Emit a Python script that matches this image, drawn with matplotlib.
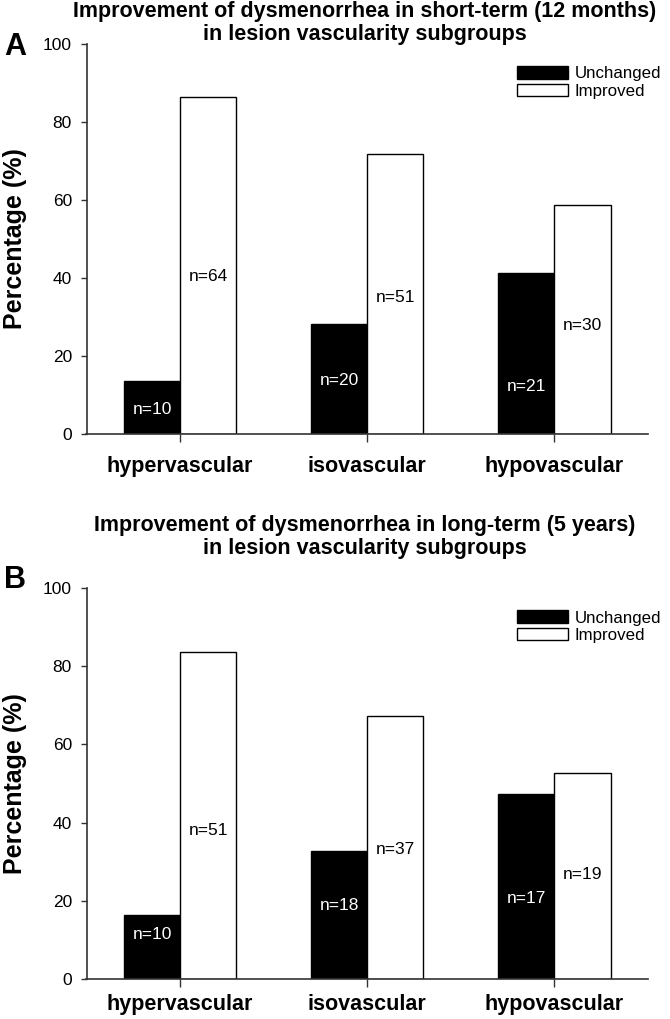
import matplotlib
matplotlib.use("Agg")
import matplotlib.pyplot as plt
import numpy as np
from matplotlib.patches import Patch

plt.rcParams['font.family'] = ['Liberation Sans', 'DejaVu Sans']

categories = ["hypervascular", "isovascular", "hypovascular"]
series_names = ["Unchanged", "Improved"]

# Panel A: short-term (12 months)
a_unchanged = [13.5, 28.2, 41.2]
a_improved = [86.5, 71.8, 58.8]
a_n_unchanged = [10, 20, 21]
a_n_improved = [64, 51, 30]

# Panel B: long-term (5 years)
b_unchanged = [16.4, 32.7, 47.2]
b_improved = [83.6, 67.3, 52.8]
b_n_unchanged = [10, 18, 17]
b_n_improved = [51, 37, 19]

yticks = [0, 20, 40, 60, 80, 100]

titles = ["Improvement of dysmenorrhea in short-term (12 months)\nin lesion vascularity subgroups",
          "Improvement of dysmenorrhea in long-term (5 years)\nin lesion vascularity subgroups"]
panel_letters = ["A", "B"]

# annotation heights (data units) for the n= labels
a_label_y_unch = [6.4, 13.6, 12.3]
a_label_y_impr = [40.5, 35.1, 27.7]
b_label_y_unch = [11.3, 18.7, 20.7]
b_label_y_impr = [38.1, 33.2, 26.6]

W, H = 670, 1019
fig = plt.figure(figsize=(W / 100, H / 100), dpi=100)

panels = [
    dict(unch=a_unchanged, impr=a_improved, nu=a_n_unchanged, ni=a_n_improved,
         lyu=a_label_y_unch, lyi=a_label_y_impr, top=44, bottom=434,
         title_y=[12, 34], letter_y=47, xpad=10),
    dict(unch=b_unchanged, impr=b_improved, nu=b_n_unchanged, ni=b_n_improved,
         lyu=b_label_y_unch, lyi=b_label_y_impr, top=588, bottom=979,
         title_y=[526, 548], letter_y=580, xpad=4.5),
]

left_px, right_px = 86.5, 648
bw = 0.3
x = np.arange(len(categories))

for i, p in enumerate(panels):
    ax = fig.add_axes([left_px / W, 1 - p['bottom'] / H,
                       (right_px - left_px) / W, (p['bottom'] - p['top']) / H])
    ax.bar(x - bw / 2, p['unch'], width=bw, color='black', edgecolor='black',
           linewidth=1.0, label=series_names[0])
    ax.bar(x + bw / 2, p['impr'], width=bw, color='white', edgecolor='black',
           linewidth=1.0, label=series_names[1])
    for j in range(len(categories)):
        ax.text(x[j] - bw / 2, p['lyu'][j], f"n={p['nu'][j]}", color='white',
                ha='center', va='center', fontsize=12.5)
        ax.text(x[j] + bw / 2, p['lyi'][j], f"n={p['ni'][j]}", color='black',
                ha='center', va='center', fontsize=12.5)
    ax.set_xlim(-0.5, 2.5)
    ax.set_ylim(0, 100)
    ax.set_yticks(yticks)
    ax.set_xticks(x)
    ax.set_xticklabels(categories, fontsize=15.5, fontweight='bold')
    ax.tick_params(axis='y', direction='out', length=4.5, width=1.0, pad=6,
                   labelsize=12.5, color='#333333')
    ax.tick_params(axis='x', direction='out', length=6, width=1.0, pad=p['xpad'],
                   color='#333333')
    for s in ['top', 'right']:
        ax.spines[s].set_visible(False)
    for s in ['left', 'bottom']:
        ax.spines[s].set_linewidth(1.2)
        ax.spines[s].set_color('#333333')
    ax.set_ylabel("Percentage (%)", fontsize=18, fontweight='bold')
    ax.yaxis.set_label_coords((27 - left_px) / (right_px - left_px), 0.5)
    ax.legend(handles=[Patch(facecolor='black', edgecolor='black', label=series_names[0]),
                       Patch(facecolor='white', edgecolor='black', label=series_names[1])],
              loc='upper right', bbox_to_anchor=(1.035, 0.96), frameon=False,
              fontsize=12.2, handlelength=3.0, handleheight=0.75,
              handletextpad=0.4, labelspacing=0.15, borderaxespad=0)
    fig.text(365 / W, 1 - (p['title_y'][0] + p['title_y'][1]) / 2 / H, titles[i],
             ha='center', va='center', fontsize=15.5, fontweight='bold', linespacing=1.1)
    fig.text(15 / W, 1 - p['letter_y'] / H, panel_letters[i], ha='center', va='center',
             fontsize=22, fontweight='bold')

fig.savefig("out.png", dpi=100)
